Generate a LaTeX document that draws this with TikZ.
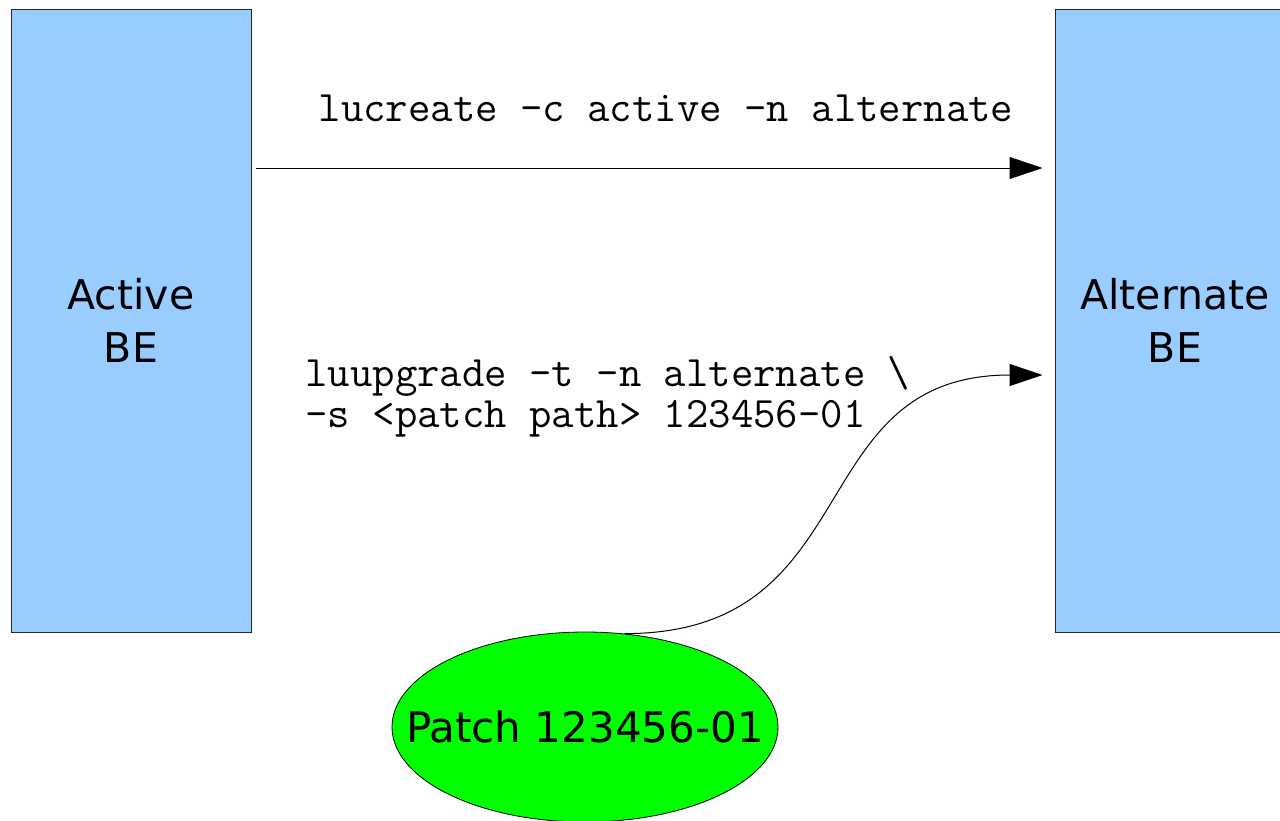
\documentclass[tikz,border=0pt]{standalone}
\usepackage{fontspec}
\setmainfont{DejaVu Sans}
\usetikzlibrary{shapes.geometric,positioning,arrows.meta}
\definecolor{beblue}{HTML}{99CCFF}
\definecolor{patchgreen}{HTML}{00FF00}

\begin{document}
\begin{tikzpicture}
[x=0.5pt,y=-0.5pt,
 envbox/.style={shape=rectangle,draw=black!85,fill=beblue,line width=0.5pt,
   minimum width=120pt,minimum height=311.5pt,inner sep=0pt,align=center,
   font=\fontsize{20.5}{26.5}\selectfont},
 patchnode/.style={shape=ellipse,draw,fill=patchgreen,line width=0.4pt,
   minimum width=193pt,minimum height=95pt,inner xsep=-21.75pt,inner ysep=0pt,
   font=\fontsize{21}{25}\selectfont},
 cmd/.style={align=left,inner sep=0pt,font=\ttfamily\fontsize{21.75}{20.5}\selectfont},
 >={Triangle[length=16.5pt,width=11pt]}]
\useasboundingbox (0,0) rectangle (1280,820);
\node[envbox] (active) at (131,320.5) {Active\\BE};
\node[envbox] (alternate) at (1175,320.5) {Alternate\\BE};
\node[patchnode] (patch) at (585,727) {Patch 123456-01};
\coordinate (upper) at (0,168);
\coordinate (lower) at (0,375);
\node[cmd,anchor=base] (lucmd) at (666,121) {lucreate -c active -n alternate};
\node[cmd,anchor=base west] (luupcmd) at (305,427)
  {luupgrade -t -n alternate \textbackslash\\-s <patch path> 123456-01};

\draw[->,line width=0.5pt,shorten <=2pt,shorten >=6pt] (active.east |- upper) -- (alternate.west |- upper);
\draw[->,line width=0.5pt,shorten >=6pt] (patch.67) .. controls +(245,0) and +(-255,0) .. (alternate.west |- lower);
\end{tikzpicture}
\end{document}
